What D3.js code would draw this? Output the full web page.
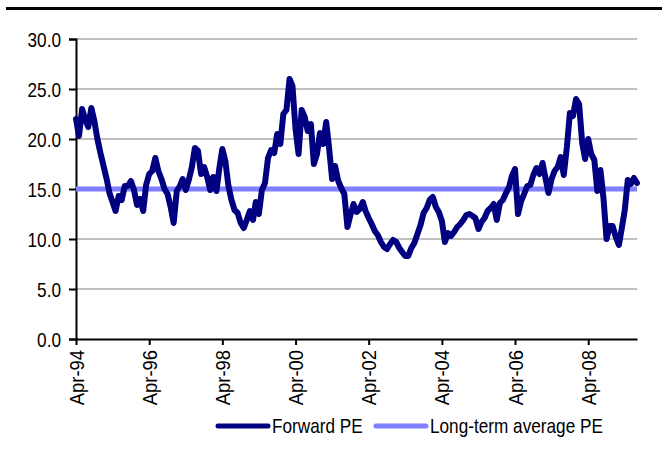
<!DOCTYPE html>
<html>
<head>
<meta charset="utf-8">
<script src="https://cdn.jsdelivr.net/npm/d3@7"></script>
<style>
  body { margin: 0; background: #fff; }
  svg { display: block; font-family: 'Liberation Sans', Arial, sans-serif; }
</style>
</head>
<body>
<div id="chart"></div>
<script>
// monthly forward PE, Apr-94 onwards
const forwardPE = [
  22.0, 20.3, 23.0, 22.0, 21.2, 23.1, 21.8, 20.0, 18.6, 17.3,
  16.0, 14.6, 13.7, 12.8, 14.3, 13.9, 15.3, 15.3, 15.8, 14.9,
  13.4, 14.0, 12.8, 15.4, 16.5, 16.8, 18.1, 16.8, 16.0, 15.0,
  14.5, 13.2, 11.6, 14.8, 15.3, 16.0, 14.9, 15.9, 17.2, 19.1,
  18.8, 16.5, 17.2, 16.2, 14.9, 16.2, 14.8, 17.0, 19.0, 17.8,
  15.3, 13.9, 12.9, 12.6, 11.6, 11.1, 11.9, 12.8, 11.9, 13.7,
  12.5, 14.9, 15.6, 18.1, 18.9, 18.6, 20.5, 19.5, 22.5, 22.9,
  26.0, 25.3, 21.0, 18.5, 22.9, 22.2, 20.8, 21.5, 17.5, 18.5,
  20.6, 19.5, 21.7, 19.2, 16.0, 17.3, 15.8, 15.1, 14.5, 11.2,
  12.4, 13.5, 12.7, 13.0, 13.7, 12.8, 12.1, 11.5, 10.8, 10.4,
  9.7, 9.2, 9.0, 9.5, 9.9, 9.7, 9.1, 8.7, 8.3, 8.3,
  9.1, 9.6, 10.5, 11.4, 12.6, 13.1, 13.9, 14.2, 13.2, 12.7,
  11.8, 9.7, 10.6, 10.3, 10.7, 11.2, 11.5, 11.9, 12.4, 12.5,
  12.3, 12.1, 11.0, 11.7, 12.1, 12.8, 13.1, 13.5, 11.9, 13.6,
  13.9, 14.6, 15.2, 16.3, 17.0, 12.5, 13.8, 14.5, 15.3, 15.4,
  16.4, 17.1, 16.5, 17.6, 16.0, 14.6, 16.0, 16.8, 17.2, 18.2,
  16.4, 19.2, 22.6, 22.3, 24.0, 23.5, 19.6, 18.0, 20.0, 18.5,
  17.9, 14.8, 16.9, 14.0, 10.0, 11.3, 11.3, 10.2, 9.4, 11.0,
  12.9, 15.9, 15.5, 16.1, 15.6
]
const longTermAvg = 15.0
const xTickLabels = ['Apr-94', 'Apr-96', 'Apr-98', 'Apr-00', 'Apr-02', 'Apr-04', 'Apr-06', 'Apr-08']
const yTicks = [0, 5, 10, 15, 20, 25, 30]
const seriesNames = ['Forward PE', 'Long-term average PE']
const seriesColors = ['#000080', '#7f7fff']

const width = 662, height = 452
const margin = { top: 39, left: 76, right: 25, bottom: 113 }
// narrow-looking text: taller font squeezed horizontally
const fontSize = 20
const squeeze = 0.86

const start = new Date(1994, 3, 1)
const data = forwardPE.map((v, i) => ({ date: d3.timeMonth.offset(start, i), val: v }))
const end = data[data.length - 1].date

const svg = d3.select('#chart').append('svg')
  .attr('width', width).attr('height', height)

// top rule
svg.append('line')
  .attr('x1', 6).attr('x2', width).attr('y1', 8.5).attr('y2', 8.5)
  .attr('stroke', '#000').attr('stroke-width', 3)

const x = d3.scaleTime()
  .domain([start, end])
  .range([margin.left, width - margin.right])

const y = d3.scaleLinear()
  .domain([0, 30])
  .range([height - margin.bottom, margin.top])

// gridlines
svg.append('g')
  .selectAll('line')
  .data(yTicks.filter(d => d > 0))
  .join('line')
  .attr('x1', margin.left).attr('x2', width - margin.right)
  .attr('y1', d => y(d)).attr('y2', d => y(d))
  .attr('stroke', '#c0c0c0').attr('stroke-width', 2)

// y axis
const yAxis = svg.append('g')
  .attr('transform', `translate(${margin.left},0)`)
  .call(d3.axisLeft(y).tickValues(yTicks).tickFormat(d3.format('.1f')).tickSize(7))
yAxis.select('.domain').attr('stroke-width', 2)
yAxis.selectAll('.tick line').attr('stroke-width', 2)
yAxis.selectAll('text')
  .attr('font-size', fontSize).attr('fill', '#000')
  .attr('x', -15 / squeeze).attr('dy', '0.35em')
  .attr('transform', `scale(${squeeze},1)`)

// x axis
const parseTick = d3.timeParse('%b-%y')
const xSqueeze = 0.92
const xAxis = svg.append('g')
  .attr('transform', `translate(0,${y(0)})`)
  .call(d3.axisBottom(x)
    .tickValues(xTickLabels.map(parseTick))
    .tickFormat(d3.timeFormat('%b-%y'))
    .tickSize(6).tickSizeOuter(0))
xAxis.select('.domain').attr('stroke-width', 2)
xAxis.selectAll('.tick line').attr('stroke-width', 2)
xAxis.selectAll('text')
  .attr('font-size', fontSize).attr('fill', '#000')
  .attr('text-anchor', 'end')
  .attr('transform', `rotate(-90) scale(${xSqueeze},1)`)
  .attr('x', -11 / xSqueeze).attr('y', 0).attr('dy', '0.35em')

// long-term average
svg.append('line')
  .attr('x1', x(start)).attr('x2', x(end))
  .attr('y1', y(longTermAvg)).attr('y2', y(longTermAvg))
  .attr('stroke', seriesColors[1]).attr('stroke-width', 5)

// forward PE
const line = d3.line().x(d => x(d.date)).y(d => y(d.val))
svg.append('path')
  .datum(data)
  .attr('fill', 'none')
  .attr('stroke', seriesColors[0])
  .attr('stroke-width', 6)
  .attr('stroke-linejoin', 'round')
  .attr('stroke-linecap', 'round')
  .attr('d', line)

// legend
const legendX = [218, 376]
const legend = svg.append('g')
seriesNames.forEach((name, i) => {
  legend.append('line')
    .attr('x1', legendX[i]).attr('x2', legendX[i] + 50)
    .attr('y1', 426).attr('y2', 426)
    .attr('stroke', seriesColors[i]).attr('stroke-width', 5)
    .attr('stroke-linecap', 'round')
  legend.append('text')
    .attr('transform', `translate(${legendX[i] + 54},426) scale(${squeeze},1)`)
    .attr('dy', '0.35em')
    .attr('font-size', fontSize)
    .text(name)
})
</script>
</body>
</html>
